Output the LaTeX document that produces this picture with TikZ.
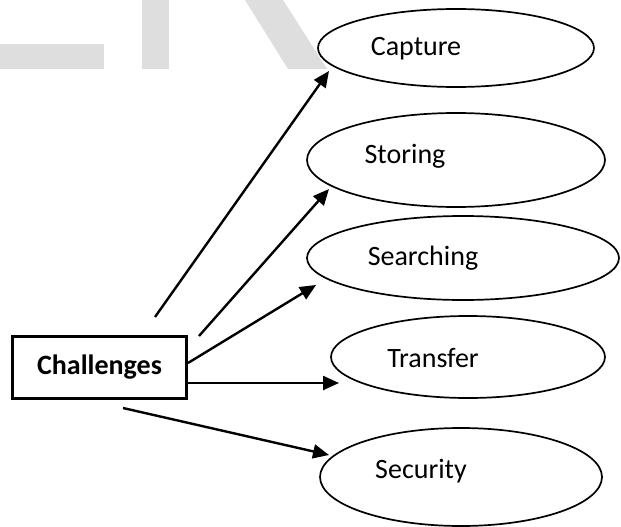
\documentclass[tikz,border=0pt]{standalone}
\usepackage{fontspec}
\setmainfont{Carlito}
\usetikzlibrary{shapes.geometric,arrows.meta}
\tikzset{
  oval/.style={draw=black, line width=1.7pt, fill=white, ellipse, inner sep=0pt},
  lbl/.style={inner sep=0pt, font=\fontsize{28}{34}\selectfont},
  chalbox/.style={draw=black, line width=2.2pt, rectangle, inner sep=0pt, fill=white,
    font=\fontsize{28}{34}\selectfont\bfseries},
  conn/.style={line width=2.4pt, -{Triangle[length=16pt,width=14pt]}},
}
\begin{document}
\begin{tikzpicture}[x=1pt,y=-1pt]
\useasboundingbox (0,0) rectangle (621,527);
% watermark
\fill[black!13] (0,44) rectangle (104,69);
\fill[black!13] (142,0) rectangle (169,69);
\fill[black!13] (245,0) -- (283,0) -- (327,69) -- (288,69) -- cycle;
% ellipses
\node[oval, minimum width=276pt, minimum height=78pt] (cap) at (456,48) {};
\node[oval, minimum width=298pt, minimum height=94pt] (sto) at (456,160) {};
\node[oval, minimum width=312pt, minimum height=84pt] (sea) at (463,258) {};
\node[oval, minimum width=274pt, minimum height=82pt] (tra) at (468,357) {};
\node[oval, minimum width=282pt, minimum height=98pt] (sec) at (461,477) {};
\node[lbl] (tcap) at (416,49) {Capture};
\node[lbl] (tsto) at (405,156) {Storing};
\node[lbl] (tsea) at (423,258) {Searching};
\node[lbl] (ttra) at (433,358) {Transfer};
\node[lbl] (tsec) at (421,471) {Security};
% box
\node[chalbox, minimum width=174pt, minimum height=62pt] (ch) at (99.5,367.5) {Challenges};
% connector ends
\coordinate (s1) at (155,317);
\coordinate (e1) at (329,71);
\coordinate (s2) at (199,336);
\coordinate (e2) at (329,189);
\coordinate (s3) at (188,363);
\coordinate (e3) at (316,285);
\coordinate (s4) at (188,383);
\coordinate (e4) at (339,383);
\coordinate (s5) at (123,408);
\coordinate (e5) at (329,455);
\draw[conn] (s1) -- (e1);
\draw[conn] (s2) -- (e2);
\draw[conn] (s3) -- (e3);
\draw[conn] (s4) -- (e4);
\draw[conn] (s5) -- (e5);
\end{tikzpicture}
\end{document}
